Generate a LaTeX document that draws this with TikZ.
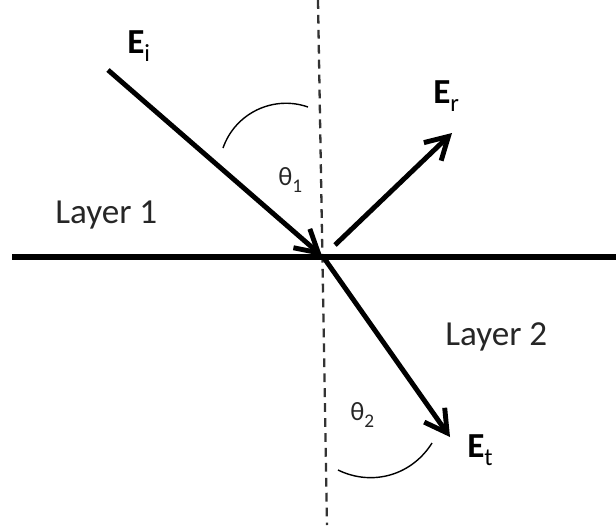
\documentclass[tikz,border=0pt]{standalone}
\usepackage{fontspec}
\setmainfont{Carlito}
\usetikzlibrary{arrows.meta}

\newcommand{\fieldlbl}[1]{{\bfseries E}\raisebox{-5pt}{\fontsize{14}{14}\selectfont #1}}
\newcommand{\anglelbl}[1]{θ\raisebox{-4pt}{\fontsize{11}{11}\selectfont #1}}

\begin{document}
\begin{tikzpicture}[
    x=0.02cm, y=-0.02cm,
    ray/.style={line width=2.8pt, line join=miter, -{Straight Barb[length=4.4mm,width=5mm]}},
    iface/.style={line width=2.9pt},
    normal/.style={line width=1.3pt, black!80, dash pattern=on 5pt off 3.5pt},
    arcmark/.style={line width=0.8pt},
    field/.style={font=\fontsize{20}{24}\selectfont, anchor=base west, inner sep=0pt},
    layer/.style={font=\fontsize{20}{24}\selectfont, anchor=base west, inner sep=0pt, text=black!85},
    ang/.style={font=\fontsize{15}{18}\selectfont, anchor=base west, inner sep=0pt, text=black!85}
]
\useasboundingbox (0,0) rectangle (616,525);

% ---- points ----
\coordinate (L) at (12,257);
\coordinate (R) at (616,257);
\coordinate (Ntop) at (318,0);
\coordinate (Nbot) at (327,525);
\coordinate (O) at (322,256);
\coordinate (Iin) at (108,70);
\coordinate (Rout) at (335,245);
\coordinate (Rtip) at (452,133);
\coordinate (Tout) at (324,258);
\coordinate (Ttip) at (450,437);
\coordinate (a1) at (223,148);
\coordinate (b1) at (308,107);
\coordinate (a2) at (338,470);
\coordinate (b2) at (432,443);

% ---- labels ----
\node[field] (Ei) at (127,53) {\fieldlbl{i}};
\node[field] (Er) at (433,103) {\fieldlbl{r}};
\node[field] (Et) at (467,457) {\fieldlbl{t}};
\node[layer] (lay1) at (55,223) {Layer 1};
\node[layer] (lay2) at (445,345) {Layer 2};
\node[ang] (th1) at (278,185) {\anglelbl{1}};
\node[ang] (th2) at (350,420) {\anglelbl{2}};

% ---- lines ----
\draw[normal] (Ntop) -- (Nbot);
\draw[iface] (L) -- (R);

\draw[ray] (Iin) -- (O);
\draw[ray] (Rout) -- (Rtip);
\draw[ray] (Tout) -- (Ttip);

\draw[arcmark] (a1) to[bend left=45] (b1);
\draw[arcmark] (a2) to[bend right=42] (b2);

\end{tikzpicture}
\end{document}
